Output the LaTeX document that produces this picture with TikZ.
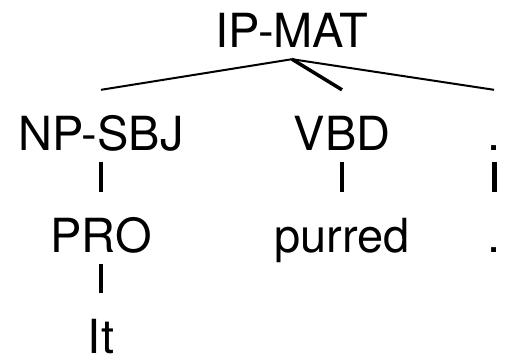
\documentclass[tikz,border=0pt]{standalone}
\usepackage{fontspec}
\setmainfont{TeX Gyre Heros}
\usepackage{tikz}

\tikzset{
  cat/.style={inner sep=0pt, anchor=base, text height=60pt, text depth=12pt,
    font=\fontsize{47}{50}\selectfont},
  branch/.style={line width=2pt},
  tick/.style={line width=4pt}
}

\begin{document}
\begin{tikzpicture}[x=1pt, y=-1pt]
  \useasboundingbox (0,0) rectangle (508,357);
  % phrase level
  \node[cat] (ip) at (292,47) {IP-MAT};
  \node[cat] (np) at (101,150) {NP-SBJ};
  \node[cat] (vbd) at (342,150) {VBD};
  \node[cat] (punct) at (494,150) {.};
  % words
  \node[cat] (pro) at (101,252) {PRO};
  \node[cat] (verb) at (342,252) {purred};
  \node[cat] (stop) at (494,252) {.};
  \node[cat] (it) at (101,353) {It};
  \draw[branch] (ip.south) -- (np.north);
  \draw[branch, line width=3.5pt] (ip.south) -- (vbd.north);
  \draw[branch] (ip.south) -- (punct.north);
  \draw[tick] (np.south) -- (pro.north);
  \draw[tick] (vbd.south) -- (verb.north);
  \draw[tick, line width=5pt] (punct.south) -- (stop.north);
  \draw[tick] (pro.south) -- (it.north);
\end{tikzpicture}
\end{document}
